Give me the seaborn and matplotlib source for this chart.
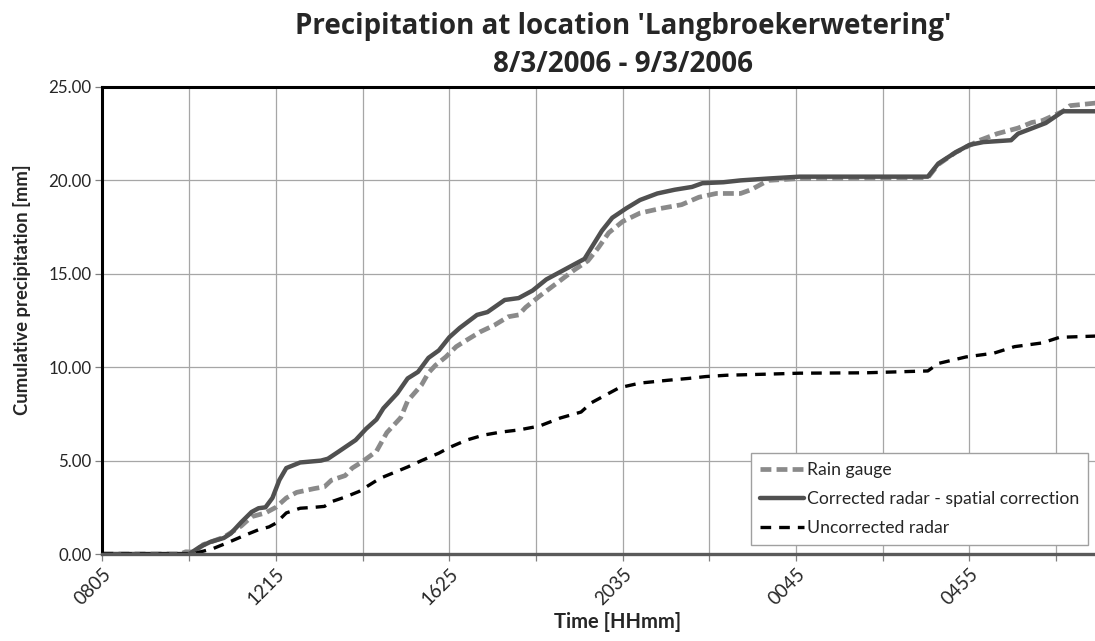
import matplotlib
matplotlib.use("Agg")
import matplotlib.pyplot as plt
import seaborn as sns
import pandas as pd

sns.set_style("white")
plt.rcParams['font.family'] = ['Lato', 'DejaVu Sans']

# time axis: minutes after 08:05 on 8/3/2006
START_MIN = 8 * 60 + 5
X_MAX = 1431

gauge_t = [0, 112, 120, 133, 145, 175, 200, 215, 225, 235, 250, 265, 280, 305, 320,
           330, 350, 360, 375, 395, 410, 430, 440, 460, 470, 480, 495, 510, 525, 545,
           565, 585, 600, 610, 630, 655, 680, 700, 715, 730, 750, 775, 805, 835, 860,
           885, 920, 935, 960, 1005, 1190, 1205, 1230, 1265, 1290, 1320, 1340, 1355,
           1385, 1395, 1435]
gauge_mm = [0, 0, 0.12, 0.10, 0.50, 0.90, 1.50, 2.00, 2.10, 2.20, 2.50, 3.00, 3.30, 3.50, 3.60,
            3.95, 4.20, 4.60, 4.95, 5.50, 6.50, 7.30, 8.20, 9.05, 9.70, 10.10, 10.55, 11.10, 11.45, 11.90,
            12.25, 12.70, 12.80, 13.20, 13.80, 14.50, 15.20, 15.70, 16.40, 17.20, 17.80, 18.25, 18.50, 18.70, 19.10,
            19.30, 19.30, 19.50, 20.00, 20.10, 20.15, 20.85, 21.50, 22.15, 22.50, 22.80, 23.10, 23.20,
            23.70, 24.00, 24.15]

corr_t = [0, 125, 140, 155, 175, 185, 200, 215, 225, 235, 245, 255, 265, 285, 315, 325,
          340, 365, 380, 395, 405, 425, 440, 455, 470, 485, 500, 515, 540, 555, 580, 600,
          620, 640, 660, 695, 705, 720, 735, 755, 775, 800, 825, 850, 865, 895, 920, 960,
          1005, 1190, 1205, 1230, 1250, 1270, 1310, 1320, 1360, 1385, 1435]
corr_mm = [0, 0, 0.37, 0.64, 0.86, 1.10, 1.70, 2.25, 2.45, 2.50, 3.00, 3.96, 4.60, 4.90, 5.00, 5.10,
           5.47, 6.10, 6.70, 7.20, 7.80, 8.60, 9.40, 9.75, 10.50, 10.90, 11.60, 12.10, 12.80, 12.95, 13.60, 13.70,
           14.10, 14.70, 15.10, 15.80, 16.40, 17.30, 18.00, 18.50, 18.95, 19.30, 19.50, 19.65, 19.85, 19.90, 20.00, 20.10,
           20.20, 20.20, 20.90, 21.50, 21.90, 22.05, 22.15, 22.50, 23.07, 23.70, 23.70]

uncorr_t = [0, 130, 160, 180, 205, 225, 240, 250, 265, 285, 305, 320, 330, 350, 370,
            400, 440, 460, 485, 500, 525, 550, 575, 600, 630, 660, 690, 705, 725, 745,
            775, 815, 845, 870, 900, 960, 1005, 1100, 1190, 1205, 1245, 1285, 1315, 1355,
            1380, 1435]
uncorr_mm = [0, 0, 0.30, 0.60, 1.00, 1.30, 1.45, 1.65, 2.20, 2.45, 2.50, 2.55, 2.80, 3.05, 3.35,
             4.05, 4.66, 5.00, 5.40, 5.70, 6.10, 6.37, 6.53, 6.64, 6.85, 7.28, 7.60, 8.10, 8.50, 8.90,
             9.15, 9.30, 9.40, 9.50, 9.57, 9.63, 9.68, 9.70, 9.80, 10.20, 10.55, 10.75, 11.10, 11.30,
             11.60, 11.67]

series = [
    ("Rain gauge", gauge_t, gauge_mm, "#8a8a8a", 3.4, (0, (2.3, 1.1))),
    ("Corrected radar - spatial correction", corr_t, corr_mm, "#505050", 3.2, "-"),
    ("Uncorrected radar", uncorr_t, uncorr_mm, "black", 2.4, (0, (3.2, 2.4))),
]

fig = plt.figure(figsize=(10.95, 6.41), dpi=100)
ax = fig.add_axes([0.0936, 0.1357, 0.9064, 0.7286])

for name, t, mm, col, lw, ls in series:
    df = pd.DataFrame({"t": t, "mm": mm})
    sns.lineplot(data=df, x="t", y="mm", ax=ax, color=col, linewidth=lw,
                 linestyle=ls, label=name, errorbar=None, sort=False)

ax.set_xlim(0, X_MAX)
ax.set_ylim(0, 25)

xt = list(range(0, X_MAX, 125))
xl = []
for m in xt:
    if m % 250 == 0:
        hm = (START_MIN + m) % 1440
        xl.append(f"{hm // 60:02d}{hm % 60:02d}")
    else:
        xl.append("")
ax.set_xticks(xt)
ax.set_xticklabels(xl, rotation=45, ha="right", rotation_mode="anchor", fontsize=13.5)
yt = [0, 5, 10, 15, 20, 25]
ax.set_yticks(yt)
ax.set_yticklabels([f"{v:.2f}" for v in yt], fontsize=12.2)

ax.grid(True, color="#a6a6a6", linewidth=0.9)
ax.set_axisbelow(True)
ax.tick_params(axis="both", direction="out", length=5, width=0.9, color="#808080",
               left=True, bottom=True, pad=3)

for s in ["left", "top"]:
    ax.spines[s].set_color("black")
    ax.spines[s].set_linewidth(2.2)
ax.spines["bottom"].set_color("#5a5a5a")
ax.spines["bottom"].set_linewidth(2.4)
ax.spines["right"].set_visible(False)

ax.set_xlabel("Time [HHmm]", fontsize=14.5, fontweight="bold")
ax.xaxis.set_label_coords(0.519, -0.125)
ax.set_ylabel("Cumulative precipitation [mm]", fontsize=13.3, fontweight="bold")
ax.yaxis.set_label_coords(-0.072, 0.566)

fig.text(0.569, 0.981, "Precipitation at location 'Langbroekerwetering'\n8/3/2006 - 9/3/2006",
         ha="center", va="top", fontsize=20, fontweight="bold", linespacing=1.4,
         family=["Open Sans", "DejaVu Sans"])

leg = ax.legend(loc="lower right", bbox_to_anchor=(0.993, 0.019), borderaxespad=0,
                fontsize=12.7, frameon=True, fancybox=False, handlelength=2.5,
                handletextpad=0.15, labelspacing=0.75, borderpad=0.5, framealpha=1)
leg.get_frame().set_edgecolor("#a0a0a0")
leg.get_frame().set_linewidth(1.0)

fig.savefig("out.png", dpi=100)
